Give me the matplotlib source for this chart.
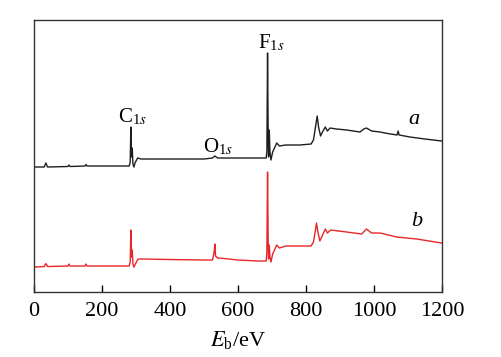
import matplotlib.pyplot as plt

plt.rcParams['font.family'] = ['Liberation Serif', 'DejaVu Serif']
plt.rcParams['mathtext.fontset'] = 'stix'

# XPS survey spectra, intensity in arbitrary units
energy_a = [3, 30, 35, 40, 100, 103, 106, 150, 153, 156, 200, 250, 280, 283, 285, 287, 289, 291,
            294, 297, 305, 315, 400, 500, 525, 532, 540, 600, 660, 683, 685, 687, 689, 690, 692,
            694, 697, 702, 714, 722, 740, 782, 815, 822, 828, 833, 837, 843, 850, 857, 863, 871,
            890, 920, 959, 970, 978, 993, 1018, 1040, 1068, 1071, 1074, 1106, 1150, 1199]
counts_a = [125, 125, 129, 125, 125.5, 127, 125.5, 126, 127.5, 126, 126, 126, 126, 130, 165, 135, 144, 128,
            125, 129, 134, 133, 133, 133, 134, 136, 134, 134, 134, 134, 140, 239, 150, 135, 162,
            140, 132, 140, 149, 146, 147, 147, 148, 152, 165, 176, 165, 156, 161, 165, 161, 164,
            163, 162, 160, 163, 164, 161, 160, 158.5, 157, 161, 157, 155, 153, 151]

energy_b = [3, 30, 35, 40, 100, 103, 106, 150, 153, 156, 200, 250, 280, 283, 285, 287, 289, 291,
            294, 298, 306, 320, 400, 500, 525, 530, 532, 534, 540, 560, 600, 660, 683, 685, 687,
            689, 690, 692, 694, 697, 702, 714, 722, 740, 782, 815, 822, 827, 831, 835, 841, 850,
            857, 863, 873, 920, 964, 978, 993, 1018, 1067, 1126, 1199]
counts_b = [25, 25.5, 28.5, 25.5, 26, 28, 26, 26, 28, 26, 26, 26, 26, 30, 62, 35, 42, 28,
            25, 28, 33, 33, 32.5, 32, 32, 40, 48, 36, 34, 33.5, 32, 31, 31, 40, 120,
            45, 33, 47, 35, 30, 38, 47, 44, 46, 46, 46, 50, 60, 69, 60, 51, 58,
            63, 59, 62, 60, 58, 63, 59, 59, 55, 53, 49]

xticks = [0, 200, 400, 600, 800, 1000, 1200]

fig = plt.figure(figsize=(5.02, 3.57), dpi=100)
ax = fig.add_axes([0.0677, 0.182, 0.8127, 0.762])

ax.plot(energy_a, counts_a, color='#1e1e1e', lw=1.0)
ax.plot(energy_b, counts_b, color='#e8262a', lw=1.0)

ax.set_xlim(0, 1200)
ax.set_ylim(0, 272)
ax.set_xticks(xticks)
ax.set_yticks([])
ax.tick_params(axis='x', direction='in', length=5, width=1, labelsize=16, pad=7)
for s in ax.spines.values():
    s.set_linewidth(1.0)
    s.set_color('#333333')

ax.set_xlabel(r'$\mathit{E}_{\mathregular{b}}$/eV', fontsize=16, labelpad=6)

ax.text(247, 170, r'C$_{\mathregular{1}\mathit{s}}$', fontsize=15)
ax.text(497, 140, r'O$_{\mathregular{1}\mathit{s}}$', fontsize=15)
ax.text(659, 244, r'F$_{\mathregular{1}\mathit{s}}$', fontsize=15)
ax.text(1100, 168, 'a', fontsize=16, style='italic')
ax.text(1110, 66, 'b', fontsize=16, style='italic')

fig.savefig('out.png', dpi=100)
